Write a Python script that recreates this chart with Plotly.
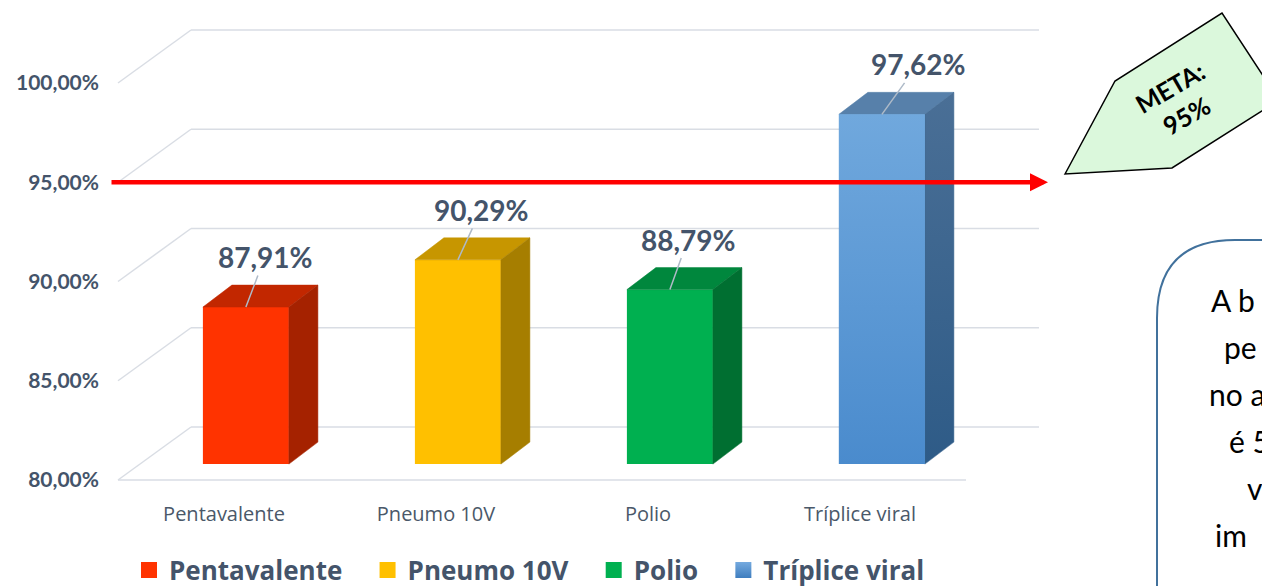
import plotly.graph_objects as go

# dados
categorias = ["Pentavalente", "Pneumo 10V", "Polio", "Tríplice viral"]
coberturas = [87.91, 90.29, 88.79, 97.62]
meta = 95
eixo_ticks = [80, 85, 90, 95, 100]
rotulos_eixo = ["80,00%", "85,00%", "90,00%", "95,00%", "100,00%"]

cor_frente = ["#FF3300", "#FFC000", "#00B050", "#5B9BD5"]
cor_topo = ["#C22700", "#C79600", "#00873D", "#5780AA"]
cor_lado = ["#A52200", "#A67E00", "#006F31", "#3C6791"]
cor_texto = "#44546A"

texto_caixa = ["A b", "pe", "no a", "é 5", "v", "im"]

# geometria (pixels da figura)
W, H = 1262, 586
ML, MT, MB = 100, 20, 86
PX_X = 212.0   # px por categoria
PX_Y = 19.85   # px por ponto percentual
x_min = -0.5 - (118 - ML) / PX_X
x_max = x_min + (W - ML) / PX_X
y_min = 80 - ((H - MB) - 480) / PX_Y
y_max = y_min + (H - MB - MT) / PX_Y

# profundidade do "3D"
DX, DY = 73 / PX_X, 53 / PX_Y          # parede inteira
FX, FY = 0.3 * DX, 0.3 * DY            # face frontal da barra
BX, BY = 29 / PX_X, 22 / PX_Y          # espessura da barra
HW = 43 / PX_X                         # meia largura
desloc_rotulo = [19, 23, 18, 36]       # px, rotulo em relacao a barra


def px(xp):
    return (xp - ML) / (W - ML)


def py(yp):
    return (H - MB - yp) / (H - MB - MT)


fig = go.Figure()

# faces frontais
xs = [i + FX for i in range(len(categorias))]
fig.add_trace(go.Bar(
    x=xs, y=[v - 80 for v in coberturas], base=80 + FY, width=2 * HW,
    marker=dict(color=cor_frente, line=dict(width=0)),
    showlegend=False, hoverinfo="skip",
))

# topo e lateral
for i, v in enumerate(coberturas):
    xl, xr = xs[i] - HW, xs[i] + HW
    yt, yb = v + FY, 80 + FY
    fig.add_trace(go.Scatter(
        x=[xl, xr, xr + BX, xl + BX, xl], y=[yt, yt, yt + BY, yt + BY, yt],
        fill="toself", fillcolor=cor_topo[i], mode="lines",
        line=dict(width=0.5, color=cor_topo[i]), showlegend=False, hoverinfo="skip"))
    lado = dict(fillcolor=cor_lado[i])
    if i == 3:
        lado = dict(fillgradient=dict(type="vertical", colorscale=[[0, "#2E5B87"], [1, "#4A6F96"]]))
    fig.add_trace(go.Scatter(
        x=[xr, xr, xr + BX, xr + BX, xr], y=[yb, yt, yt + BY, yb + BY, yb],
        fill="toself", mode="lines", line=dict(width=0.5, color=cor_lado[i]),
        showlegend=False, hoverinfo="skip", **lado))
    if i == 3:
        fig.add_trace(go.Scatter(
            x=[xl, xr, xr, xl, xl], y=[yb, yb, yt, yt, yb],
            fill="toself", mode="lines", line=dict(width=0),
            fillgradient=dict(type="vertical", colorscale=[[0, "#4A8BCD"], [1, "#70A8DD"]]),
            showlegend=False, hoverinfo="skip"))

# legenda
for i, nome in enumerate(categorias):
    mk = dict(symbol="square", size=17, color=cor_frente[i])
    if i == 3:
        mk = dict(symbol="square", size=17, color="#75AADF",
                  gradient=dict(type="vertical", color="#3F7EBF"))
    pad = "" if i == len(categorias) - 1 else "\u00a0" * 3
    fig.add_trace(go.Scatter(x=[None], y=[None], mode="markers", marker=mk, name=nome + pad))

# grade em perspectiva
grade = []
for t in eixo_ticks:
    grade.append(dict(x0=-0.5, y0=t, x1=-0.5 + DX, y1=t + DY))
    grade.append(dict(x0=-0.5 + DX, y0=t + DY, x1=3.5 + DX, y1=t + DY))
grade.append(dict(x0=-0.5, y0=80, x1=3.5, y1=80))
shapes = [dict(type="line", xref="x", yref="y", layer="below",
               line=dict(color="#D9DDE4", width=1.5), **g) for g in grade]

# caixa de texto (cortada na borda)
r = 78
caixa = (f"M {px(1157)},{py(640)} L {px(1157)},{py(240 + r)} "
         f"Q {px(1157)},{py(240)} {px(1157 + r)},{py(240)} L {px(1320)},{py(240)} "
         f"L {px(1320)},{py(640)} Z")
shapes.append(dict(type="path", xref="paper", yref="paper", path=caixa,
                   fillcolor="white", line=dict(color="#41719C", width=2)))

# seta "META"
pts = [(1065, 174), (1115, 81), (1222, 13), (1279, 100), (1172, 168)]
seta = "M " + " L ".join(f"{px(a)},{py(b)}" for a, b in pts) + " Z"
shapes.append(dict(type="path", xref="paper", yref="paper", path=seta,
                   fillcolor="#DBF8DC", line=dict(color="black", width=1.5)))

annotations = []
for i, v in enumerate(coberturas):
    annotations.append(dict(
        x=xs[i], y=v + FY, xref="x", yref="y", ax=desloc_rotulo[i], ay=-50,
        text=f"{v:.2f}%".replace(".", ","), showarrow=True, arrowhead=0,
        arrowwidth=1.5, arrowcolor="#AEBAC8",
        font=dict(family="Lato", size=28, color=cor_texto, weight="bold")))

# linha da meta
annotations.append(dict(
    x=-0.5 + (1048 - 118) / PX_X, y=meta, xref="x", yref="y",
    ax=-0.5 + (110 - 118) / PX_X, ay=meta, axref="x", ayref="y",
    text="", showarrow=True, arrowhead=2, arrowsize=0.8, arrowwidth=4.5,
    arrowcolor="#FF0000"))

annotations.append(dict(
    x=px(1178), y=py(102), xref="paper", yref="paper", xanchor="center",
    yanchor="middle", showarrow=False, text="META:<br>95%", textangle=-30,
    font=dict(family="Lato", size=25, color="black", weight="bold")))

linhas_y = [300, 347, 394, 441, 488, 535]
linhas_x = [1209, 1222, 1207, 1227, 1245, 1213]
for t, xa, ya in zip(texto_caixa, linhas_x, linhas_y):
    annotations.append(dict(
        x=px(xa), y=py(ya), xref="paper", yref="paper", xanchor="left",
        yanchor="middle", showarrow=False, text=t,
        font=dict(family="Lato", size=30, color="black")))

fig.update_layout(
    width=W, height=H,
    margin=dict(l=ML, r=0, t=MT, b=MB, autoexpand=False),
    plot_bgcolor="white", paper_bgcolor="white",
    barmode="overlay", hovermode=False,
    shapes=shapes, annotations=annotations,
    legend=dict(orientation="h", x=px(129), xanchor="left", y=py(570), yanchor="middle",
                font=dict(family="Open Sans", size=26, color=cor_texto, weight="bold"),
                bgcolor="rgba(0,0,0,0)", itemclick=False),
    xaxis=dict(range=[x_min, x_max], tickvals=list(range(len(categorias))),
               ticktext=categorias, showgrid=False, zeroline=False, showline=False,
               tickfont=dict(family="Open Sans", size=20, color="#4A5869")),
    yaxis=dict(range=[y_min, y_max], tickvals=eixo_ticks, ticktext=rotulos_eixo,
               showgrid=False, zeroline=False, showline=False,
               tickfont=dict(family="Lato", size=21, color=cor_texto, weight="bold")),
)

fig.write_html("out.html", config={"displayModeBar": False},
               post_script="document.body.style.margin='0';")
